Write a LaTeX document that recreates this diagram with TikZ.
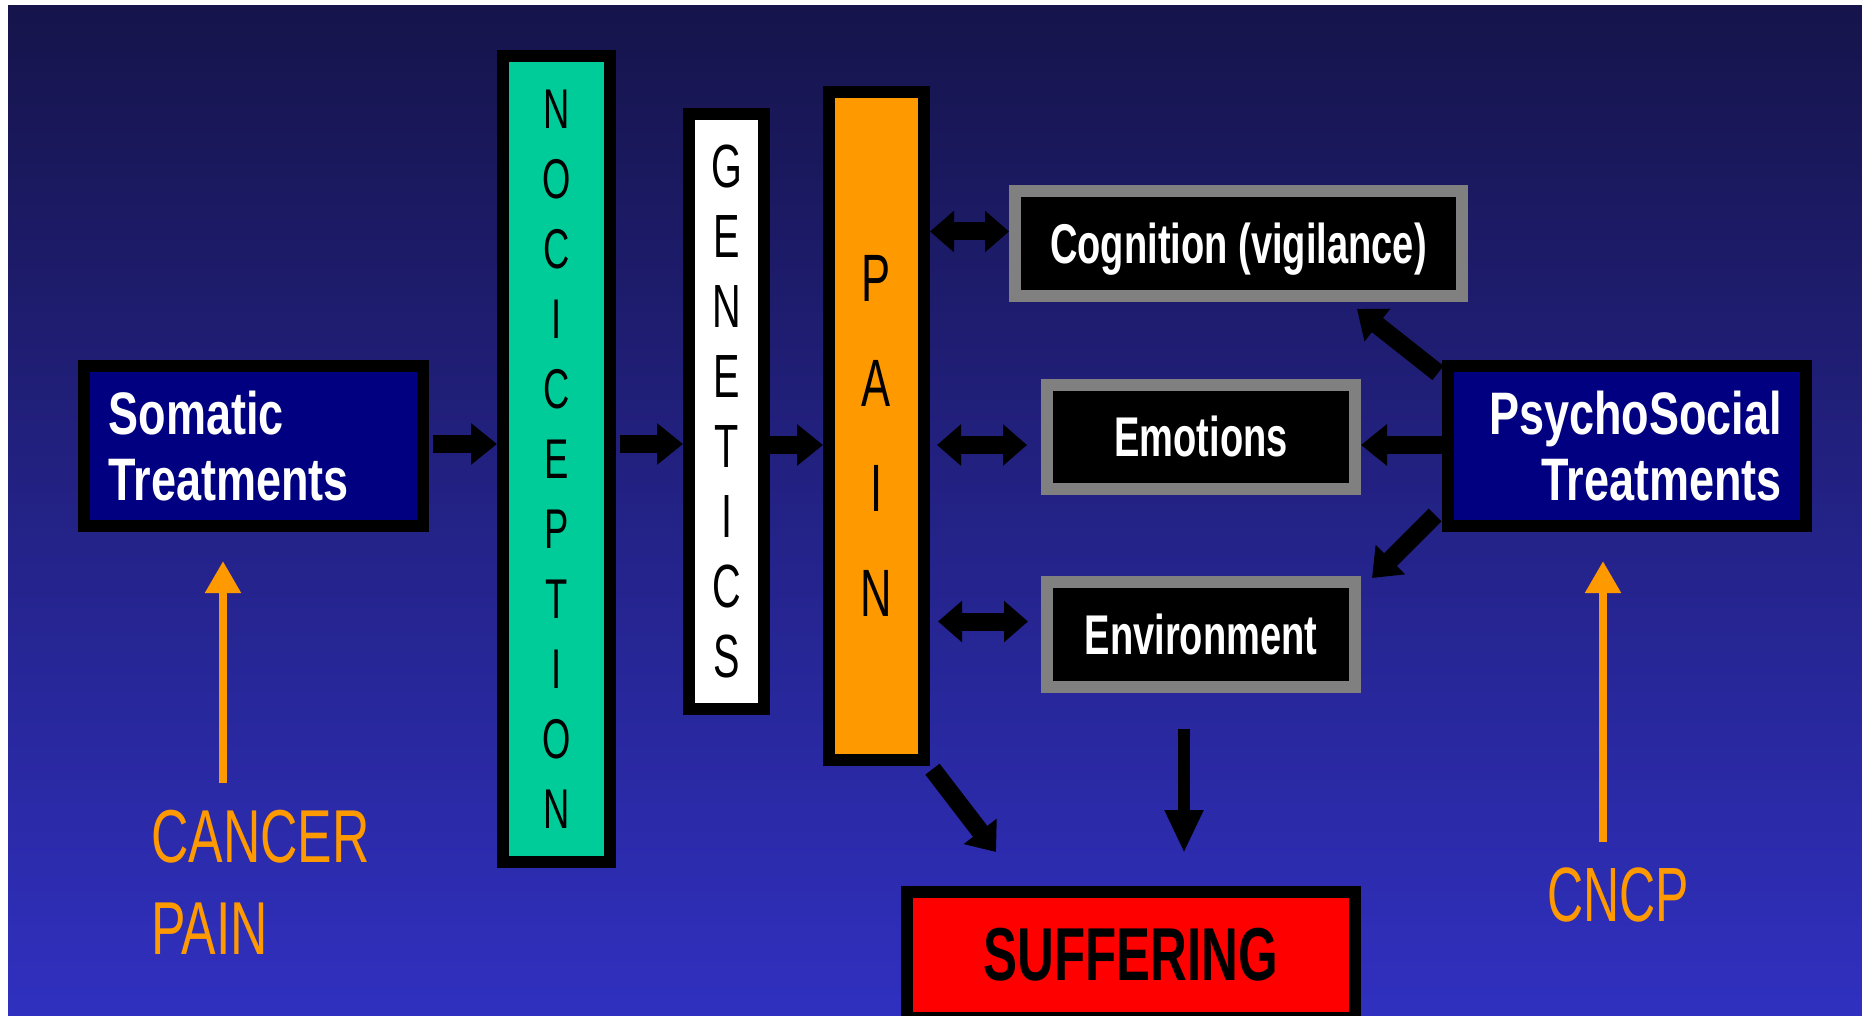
\documentclass[tikz,border=0pt]{standalone}
\usepackage{fontspec}
\setmainfont{Liberation Sans}
\newfontfamily\treatfont[FakeStretch=0.75]{Liberation Sans}
\newfontfamily\factorfont[FakeStretch=0.68]{Liberation Sans}
\newfontfamily\barfont[FakeStretch=0.65]{Liberation Sans}
\newfontfamily\sourcefont[FakeStretch=0.69]{Liberation Sans}
\usetikzlibrary{arrows.meta}
\definecolor{bgtop}{RGB}{22,20,75}
\definecolor{bgbottom}{RGB}{48,48,192}
\definecolor{nocigreen}{RGB}{0,204,153}
\definecolor{painorange}{RGB}{255,153,0}
\definecolor{boxnavy}{RGB}{0,0,128}
\definecolor{boxgray}{RGB}{128,128,128}

\begin{document}
\begin{tikzpicture}[x=1pt, y=-1pt]
    \tikzstyle{treatment} = [rectangle, draw=black, line width=12pt, fill=boxnavy, text=white, minimum width=339pt, minimum height=160pt, font=\treatfont\bfseries\fontsize{60}{66}\selectfont]
    \tikzstyle{bar} = [rectangle, draw=black, line width=12pt, align=center, inner sep=0pt]
    \tikzstyle{factor} = [rectangle, draw=boxgray, line width=12pt, fill=black, text=white, minimum width=308pt, minimum height=104pt, text height=39pt, text depth=0pt, font=\factorfont\bfseries\fontsize{56}{60}\selectfont]
    \tikzstyle{source} = [text=painorange, align=left, inner sep=0pt, anchor=north west, font=\sourcefont\fontsize{75}{92}\selectfont]
    \tikzstyle{arrow} = [line width=18pt, -{Triangle[length=26pt,width=40pt]}]
    \tikzstyle{both} = [line width=18pt, {Triangle[length=24pt,width=40pt]}-{Triangle[length=24pt,width=40pt]}]
    \tikzstyle{thinarrow} = [line width=12pt, -{Triangle[length=43pt,width=36pt]}]
    \tikzstyle{uparrow} = [line width=8pt, painorange, -{Triangle[length=32pt,width=34pt]}]

    % background
    \useasboundingbox (0,0) rectangle (1862,1016);
    \fill[white] (0,0) rectangle (1862,1016);
    \clip (0,0) rectangle (1862,1016);
    \fill[top color=bgtop, bottom color=bgbottom] (8,6) rectangle (1862,1016);

    \node (somatic) [treatment, align=left, text width=290pt] at (253.5,446) {Somatic\\Treatments};
    \node (psycho) [treatment, minimum width=358pt, align=right, text width=310pt] at (1627,446) {PsychoSocial\\Treatments};

    \node (noci) [bar, fill=nocigreen, minimum width=107pt, minimum height=806pt, font=\barfont\fontsize{56}{70}\selectfont] at (556.5,459) {N\\O\\C\\I\\C\\E\\P\\T\\I\\O\\N};
    \node (genetics) [bar, fill=white, minimum width=75pt, minimum height=595pt, font=\barfont\fontsize{61}{70}\selectfont] at (726.5,411.5) {G\\E\\N\\E\\T\\I\\C\\S};
    \node (pain) [bar, fill=painorange, minimum width=95pt, minimum height=668pt, font=\barfont\fontsize{67}{104.7}\selectfont] at (876.5,426) {\rule{0pt}{66pt}P\\A\\I\\N};

    \node (cog) [factor, minimum width=447pt, minimum height=105pt] at (1238.5,243.5) {Cognition (vigilance)};
    \node (emo) [factor] at (1201,437) {Emotions};
    \node (env) [factor, minimum height=105pt] at (1201,634.5) {Environment};

    \node (suff) [rectangle, draw=black, line width=12pt, fill=red, minimum width=448pt, minimum height=126pt, font=\factorfont\bfseries\fontsize{75}{80}\selectfont] at (1131,955) {SUFFERING};

    \node (cancer) [source] at (151,810) {CANCER\\PAIN};
    \node (cncp) [source, font=\barfont\fontsize{77}{92}\selectfont] at (1547,868) {CNCP};

    % main chain
    \draw [arrow, shorten <=4pt] ([yshift=2pt]somatic.east) -- ([yshift=2pt]somatic.east -| noci.west);
    \draw [arrow, shorten <=4pt] ([yshift=2pt]somatic.east -| noci.east) -- ([yshift=2pt]somatic.east -| genetics.west);
    \draw [arrow] ([yshift=1pt]somatic.east -| genetics.east) -- ([yshift=1pt]somatic.east -| pain.west);

    % pain and the factors
    \draw [both] ([yshift=12pt]cog.west -| pain.east) -- ([yshift=12pt]cog.west);
    \draw [both, shorten <=7pt, shorten >=14pt] ([yshift=-8pt]emo.west -| pain.east) -- ([yshift=-8pt]emo.west);
    \draw [both, shorten <=8pt, shorten >=13pt] ([yshift=13pt]env.west -| pain.east) -- ([yshift=13pt]env.west);

    % psychosocial side
    \draw [arrow] ([shift={(-4,13)}]psycho.north west) -- ([shift={(-111,7)}]cog.south east);
    \draw [arrow] ([yshift=1pt]psycho.west) -- ([yshift=1pt]psycho.west -| emo.east);
    \draw [arrow] ([shift={(-7,-17)}]psycho.south west) -- ([shift={(11,2)}]env.north east);

    % to suffering
    \draw [arrow, shorten <=4pt] (pain.south east) -- ([shift={(95,-34)}]suff.north west);
    \draw [thinarrow, shorten <=36pt, shorten >=33pt] ([xshift=-17pt]env.south) -- ([xshift=-17pt]env.south |- suff.north);

    % sources
    \draw [uparrow, shorten <=27pt, shorten >=29pt] ([xshift=-30.5pt]somatic.south |- cancer.north) -- ([xshift=-30.5pt]somatic.south);
    \draw [uparrow, shorten <=26pt, shorten >=29pt] ([xshift=-24pt]psycho.south |- cncp.north) -- ([xshift=-24pt]psycho.south);
\end{tikzpicture}
\end{document}
